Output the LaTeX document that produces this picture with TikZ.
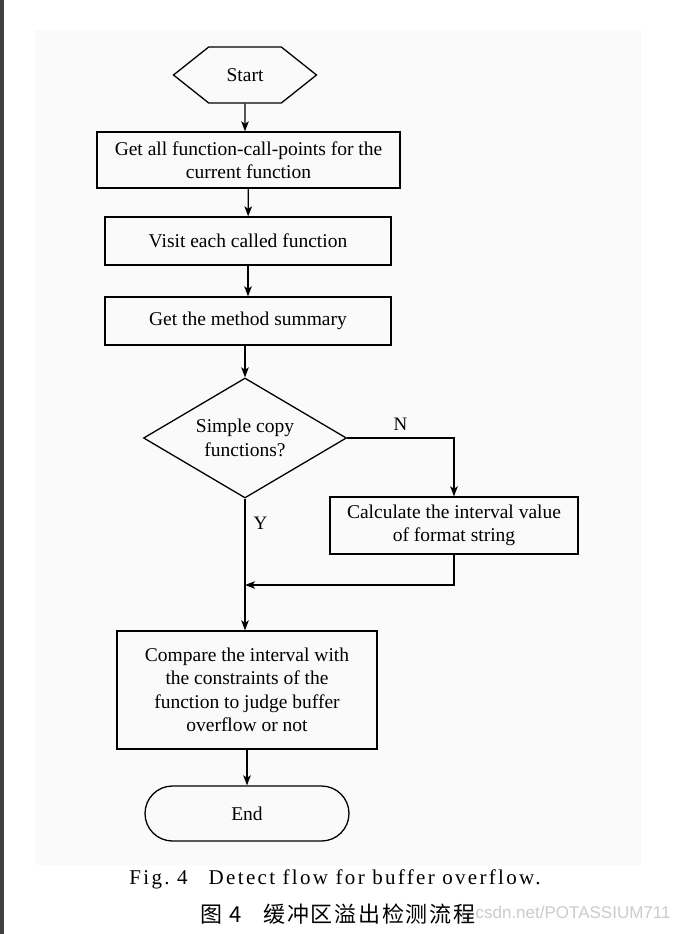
\documentclass[tikz,border=0pt]{standalone}
\usepackage{fontspec}
\setmainfont{Liberation Serif}
\newfontfamily\cjk{Noto Sans CJK SC}
\newfontfamily\wmfont{Liberation Sans}
\usetikzlibrary{shapes.geometric,shapes.symbols,arrows.meta}

\begin{document}
\begin{tikzpicture}[
  x=1pt, y=-1pt,
  line width=1.3pt,
  >={Stealth[length=10pt,width=7.5pt,inset=2.5pt]},
  every node/.style={font=\fontsize{19.5}{23.5}\selectfont, align=center, inner sep=0pt},
  box/.style={draw, rectangle, minimum height=48pt},
  hexa/.style={draw, signal, signal to=west and east, signal pointer angle=77,
    minimum width=143pt, minimum height=56pt},
  decision/.style={draw, diamond, aspect=1.7, minimum width=203pt, minimum height=120pt},
  terminal/.style={draw, rectangle, rounded corners=27.5pt, minimum width=204pt,
    minimum height=55pt},
  tag/.style={font=\fontsize{19}{22}\selectfont}
]
  \useasboundingbox (0,0) rectangle (680,934);
  \fill[white] (0,0) rectangle (680,934);
  \fill[black!75] (0,0) rectangle (4,934);
  \fill[black!2] (35,30) rectangle (641,865);

  \node[hexa] (start) at (245,75) {Start};
  \node[box, minimum width=303pt, minimum height=56pt] (points) at (248.5,160)
    {Get all function-call-points for the\\current function};
  \node[box, minimum width=286pt] (visit) at (248,241) {Visit each called function};
  \node[box, minimum width=286pt] (summary) at (248,321) {Get the method summary};
  \node[decision] (copy) at (245,438) {Simple copy\\functions?};
  \node[box, minimum width=248pt, minimum height=57pt] (calc) at (454,525.5)
    {Calculate the interval value\\of format string};
  \node[box, minimum width=260pt, minimum height=118pt] (compare) at (247,690)
    {Compare the interval with\\the constraints of the\\function to judge buffer\\overflow or not};
  \node[terminal] (end) at (247,813.5) {End};
  \coordinate (merge) at (245,585);

  \draw[->] (start) -- (start |- points.north);
  \draw[->] (points) -- (visit);
  \draw[->] (visit) -- (summary);
  \draw[->] (summary.south -| copy) -- (copy.north);
  \draw[->] (copy.east) -| node[tag, pos=0.25, above=7pt] {N} (calc.north);
  \draw (copy.south) -- node[tag, pos=0.28, right=8pt] {Y} (merge);
  \draw[->] (calc.south) |- (merge);
  \draw[->] (merge) -- (merge |- compare.north);
  \draw[->] (compare) -- (end);

  \node[font=\fontsize{21}{24}\selectfont\addfontfeature{LetterSpace=11}] (figen) at (335,879)
    {Fig.~4\quad Detect flow for buffer overflow.};
  \node[text=black!20, font=\fontsize{17}{20}\wmfont] (mark) at (566,914) {g.csdn.net/POTASSIUM711};
  \node[font=\fontsize{22}{24}\cjk\addfontfeature{LetterSpace=8}] (figcn) at (338,914) {图 4\quad 缓冲区溢出检测流程};
\end{tikzpicture}
\end{document}
